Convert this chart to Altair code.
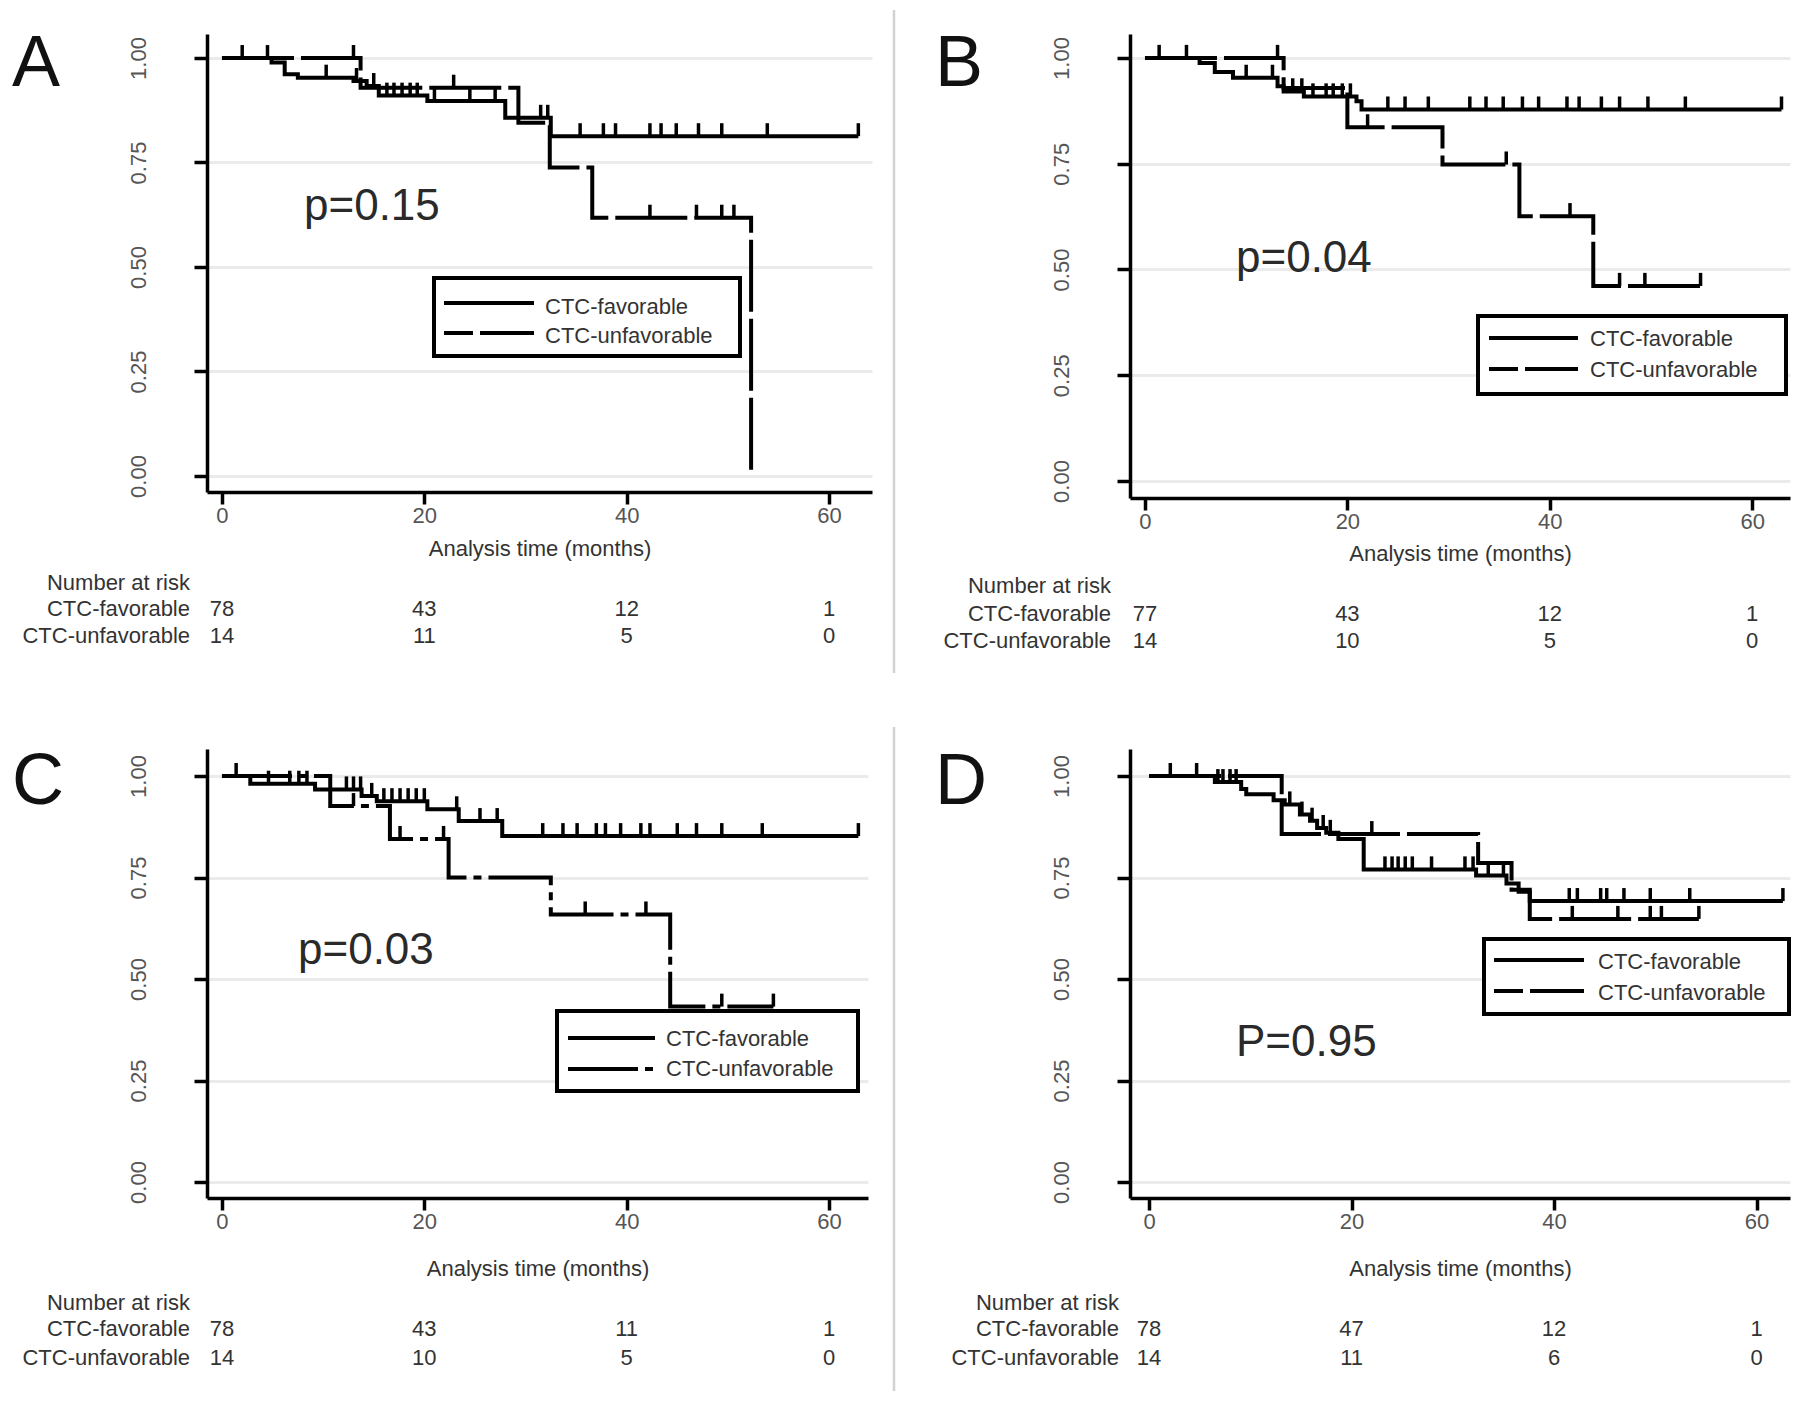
import altair as alt
import pandas as pd

FONT = "Liberation Sans"
GROUPS = ["CTC-favorable", "CTC-unfavorable"]
RISK_TIMES = [0, 20, 40, 60]

# ---------------- Panel A ----------------
A_fav_t = [0, 4.9, 6.2, 7.5, 13.0, 14.3, 15.5, 20.3, 28.0, 32.5, 62.9]
A_fav_s = [1.0, 0.989, 0.961, 0.953, 0.945, 0.933, 0.910, 0.897, 0.857, 0.813, 0.813]
A_fav_c = [2.0, 4.5, 10.3, 13.3, 15.0, 16.3, 17.0, 17.8, 18.6, 19.3, 21.0, 24.5, 27.0,
           31.5, 32.2, 35.4, 37.7, 38.9, 42.3, 43.4, 44.9, 47.1, 49.4, 53.9, 62.9]
A_unf_t = [0, 13.7, 29.3, 32.4, 36.6, 52.3]
A_unf_s = [1.0, 0.929, 0.845, 0.738, 0.618, 0.0]
A_unf_c = [13.0, 22.9, 42.3, 46.9, 49.4, 50.6]
A_risk_fav = [78, 43, 12, 1]
A_risk_unf = [14, 11, 5, 0]

# ---------------- Panel B ----------------
B_fav_t = [0, 5.4, 6.9, 8.7, 13.1, 13.7, 15.7, 20.9, 21.4, 62.9]
B_fav_s = [1.0, 0.988, 0.967, 0.953, 0.933, 0.921, 0.909, 0.898, 0.878, 0.878]
B_fav_c = [1.4, 4.1, 10.0, 12.6, 14.6, 15.5, 16.6, 17.9, 18.6, 19.5, 20.3, 24.0, 25.7,
           28.0, 32.1, 33.7, 35.4, 37.3, 38.9, 41.7, 42.9, 45.1, 46.9, 49.7, 53.4, 62.9]
B_unf_t = [0, 13.7, 20.0, 29.4, 37.0, 44.3, 54.9]
B_unf_s = [1.0, 0.929, 0.836, 0.748, 0.626, 0.461, 0.461]
B_unf_c = [13.1, 22.0, 35.7, 42.0, 46.9, 49.4, 54.9]
B_risk_fav = [77, 43, 12, 1]
B_risk_unf = [14, 10, 5, 0]

# ---------------- Panel C ----------------
C_fav_t = [0, 2.8, 9.2, 13.8, 15.3, 20.3, 23.4, 27.7, 62.9]
C_fav_s = [1.0, 0.981, 0.967, 0.951, 0.938, 0.918, 0.889, 0.852, 0.852]
C_fav_c = [1.4, 4.6, 6.7, 7.6, 8.4, 12.3, 13.0, 13.7, 14.8, 16.0, 16.8, 17.6, 18.4,
           19.2, 20.0, 23.2, 25.5, 27.2, 31.7, 33.7, 35.1, 37.0, 37.9, 39.4, 41.4,
           42.3, 45.0, 46.9, 49.4, 53.4, 62.9]
C_unf_t = [0, 10.7, 16.6, 22.4, 32.5, 44.3, 54.5]
C_unf_s = [1.0, 0.926, 0.845, 0.750, 0.659, 0.432, 0.432]
C_unf_c = [13.0, 17.6, 21.9, 35.9, 41.9, 49.4, 54.5]
C_risk_fav = [78, 43, 11, 1]
C_risk_unf = [14, 10, 5, 0]

# ---------------- Panel D ----------------
D_fav_t = [0, 6.5, 9.1, 9.6, 12.3, 13.4, 14.9, 15.9, 16.6, 17.5, 18.7, 21.2,
           32.3, 35.3, 36.5, 37.6, 62.6]
D_fav_s = [1.0, 0.985, 0.968, 0.955, 0.94, 0.93, 0.905, 0.89, 0.872, 0.86, 0.845,
           0.770, 0.755, 0.735, 0.715, 0.692, 0.692]
D_fav_c = [2.1, 4.7, 6.8, 7.3, 8.0, 8.6, 13.9, 15.1, 16.1, 17.2, 17.9, 23.3, 24.0,
           24.6, 25.3, 26.0, 27.9, 31.2, 32.0, 33.5, 35.0, 41.5, 42.3, 44.6, 45.2,
           46.9, 49.5, 53.4, 62.6]
D_unf_t = [0, 13.1, 32.5, 35.8, 37.6, 54.3]
D_unf_s = [1.0, 0.857, 0.786, 0.72, 0.648, 0.648]
D_unf_c = [22.0, 41.8, 46.3, 49.5, 50.6, 54.3]
D_risk_fav = [78, 47, 12, 1]
D_risk_unf = [14, 11, 6, 0]

P_VALUES = ["p=0.15", "p=0.04", "p=0.03", "P=0.95"]
LETTERS = ["A", "B", "C", "D"]


def s_at(ts, ss, x):
    val = ss[0]
    for t, s in zip(ts, ss):
        if t <= x + 1e-9:
            val = s
    return val


def one_row(v=""):
    return pd.DataFrame({"v": [v]})


def text_layer(label, x, y, size, align="left", baseline="middle", color="#333"):
    return alt.Chart(one_row(label)).mark_text(
        font=FONT, fontSize=size, align=align, baseline=baseline, color=color
    ).encode(x=alt.value(x), y=alt.value(y), text="v:N")


def make_panel(letter, pval, fav, unf, risk, L):
    fav_t, fav_s, fav_c = fav
    unf_t, unf_s, unf_c = unf
    W, H = L["w"], L["h"]

    fav_df = pd.DataFrame({"t": fav_t, "s": fav_s})
    unf_df = pd.DataFrame({"t": unf_t, "s": unf_s})
    cens_df = pd.DataFrame({
        "t": list(fav_c) + list(unf_c),
        "s": [s_at(fav_t, fav_s, c) for c in fav_c] + [s_at(unf_t, unf_s, c) for c in unf_c],
    })

    x_enc = alt.X("t:Q", scale=alt.Scale(domain=L["xdom"], nice=False, zero=False),
                  axis=alt.Axis(values=RISK_TIMES, title="Analysis time (months)", grid=False,
                                domainColor="black", domainWidth=3.5, tickColor="black",
                                tickWidth=3.5, tickSize=12, labelFont=FONT, labelFontSize=22,
                                labelColor="#555", labelPadding=1, labelFlush=False,
                                titleFont=FONT, titleFontSize=22, titleFontWeight="normal",
                                titleColor="#333", titlePadding=L["tpad"]))
    y_enc = alt.Y("s:Q", scale=alt.Scale(domain=L["ydom"], nice=False, zero=False),
                  axis=alt.Axis(values=[0, 0.25, 0.5, 0.75, 1.0], format=".2f", title=None,
                                labelAngle=270, labelAlign="center", labelBaseline="bottom",
                                labelPadding=44, tickSize=13, tickColor="black", tickWidth=3.5,
                                domainColor="black", domainWidth=3.5, grid=True,
                                gridColor="#ebebeb", gridWidth=3, labelFont=FONT,
                                labelFontSize=22, labelColor="#555", labelFlush=False,
                                labelOverlap=False))

    layers = []
    layers.append(alt.Chart(unf_df).mark_line(interpolate="step-after", strokeWidth=4,
                                              color="black", strokeDash=L["dash"])
                  .encode(x=x_enc, y=y_enc))
    layers.append(alt.Chart(fav_df).mark_line(interpolate="step-after", strokeWidth=4,
                                              color="black")
                  .encode(x=x_enc, y=y_enc))
    layers.append(alt.Chart(cens_df).transform_calculate(s2=f"datum.s + {L['tickh']}")
                  .mark_rule(strokeWidth=3.5, color="black")
                  .encode(x=x_enc, y=y_enc, y2="s2:Q"))

    # legend box
    bx0, bx1, by0, by1 = L["box"]
    layers.append(alt.Chart(one_row()).mark_rect(fill="white", stroke="black", strokeWidth=4)
                  .encode(x=alt.value(bx0), x2=alt.value(bx1), y=alt.value(by0), y2=alt.value(by1)))
    lx0, lx1 = L["lx"]
    ly0, ly1 = L["ly"]
    layers.append(alt.Chart(one_row()).mark_rule(strokeWidth=4, color="black")
                  .encode(x=alt.value(lx0), x2=alt.value(lx1), y=alt.value(ly0)))
    layers.append(alt.Chart(one_row()).mark_rule(strokeWidth=4, color="black",
                                                 strokeDash=L["dash"], strokeDashOffset=L["doff"])
                  .encode(x=alt.value(lx0), x2=alt.value(lx1), y=alt.value(ly1)))
    tx = L["tx"]
    ty0, ty1 = L["ty"]
    layers.append(text_layer(GROUPS[0], tx, ty0, 22))
    layers.append(text_layer(GROUPS[1], tx, ty1, 22))

    # letter and p value
    layers.append(text_layer(letter, L["letter"][0], L["letter"][1], 72,
                             baseline="alphabetic", color="#111"))
    layers.append(text_layer(pval, L["p"][0], L["p"][1], 44, baseline="alphabetic", color="#2a2a2a"))

    # number at risk table
    r0, r1, r2 = L["risk"]
    layers.append(text_layer("Number at risk", L["labx"], H + r0, 22, align="right"))
    layers.append(text_layer(GROUPS[0], L["labx"], H + r1, 22, align="right"))
    layers.append(text_layer(GROUPS[1], L["labx"], H + r2, 22, align="right"))
    for n_vals, off in ((risk[0], r1), (risk[1], r2)):
        ndf = pd.DataFrame({"t": RISK_TIMES, "n": n_vals})
        layers.append(alt.Chart(ndf).mark_text(font=FONT, fontSize=22, align="center",
                                               baseline="middle", color="#333")
                      .encode(x=x_enc, y=alt.value(H + off), text="n:Q"))

    if L.get("sep"):
        sx, sy0, sy1 = L["sep"]
        layers.append(alt.Chart(one_row()).mark_rule(color="#d2d2d2", strokeWidth=2.5)
                      .encode(x=alt.value(sx), y=alt.value(sy0), y2=alt.value(sy1)))

    return alt.layer(*layers).properties(width=W, height=H)


LAYOUT_A = dict(w=665, h=458, xdom=[-1.48, 64.25], ydom=[-0.0383, 1.0574], tickh=0.031,
                tpad=12, risk=(91, 117, 144), labx=-17, letter=(-195, 52), p=(97, 186),
                box=(227, 533, 244, 322), lx=(237, 327), ly=(269, 299), tx=338, ty=(273, 302),
                dash=[72, 7], doff=43, sep=(687, -24, 639))
LAYOUT_B = dict(w=660, h=464, xdom=[-1.48, 63.74], ydom=[-0.0402, 1.0567], tickh=0.031,
                tpad=11, risk=(88, 116, 143), labx=-19, letter=(-195, 52), p=(106, 238),
                box=(348, 656, 282, 360), lx=(359, 448), ly=(304, 335), tx=460, ty=(305, 336),
                dash=[72, 7], doff=43)
LAYOUT_C = dict(w=661, h=449, xdom=[-1.48, 63.85], ydom=[-0.0394, 1.0665], tickh=0.032,
                tpad=26, risk=(105, 131, 160), labx=-17, letter=(-195, 55), p=(91, 215),
                box=(350, 651, 262, 342), lx=(361, 448), ly=(289, 320), tx=459, ty=(290, 320),
                dash=[70, 7, 8, 7], doff=0, sep=(687, -22, 642))
LAYOUT_D = dict(w=660, h=449, xdom=[-1.88, 63.3], ydom=[-0.0394, 1.0665], tickh=0.032,
                tpad=26, risk=(105, 131, 160), labx=-11, letter=(-195, 55), p=(106, 307),
                box=(354, 659, 190, 265), lx=(364, 454), ly=(211, 242), tx=468, ty=(213, 244),
                dash=[72, 7], doff=43)

pA = make_panel(LETTERS[0], P_VALUES[0], (A_fav_t, A_fav_s, A_fav_c), (A_unf_t, A_unf_s, A_unf_c),
                (A_risk_fav, A_risk_unf), LAYOUT_A)
pB = make_panel(LETTERS[1], P_VALUES[1], (B_fav_t, B_fav_s, B_fav_c), (B_unf_t, B_unf_s, B_unf_c),
                (B_risk_fav, B_risk_unf), LAYOUT_B)
pC = make_panel(LETTERS[2], P_VALUES[2], (C_fav_t, C_fav_s, C_fav_c), (C_unf_t, C_unf_s, C_unf_c),
                (C_risk_fav, C_risk_unf), LAYOUT_C)
pD = make_panel(LETTERS[3], P_VALUES[3], (D_fav_t, D_fav_s, D_fav_c), (D_unf_t, D_unf_s, D_unf_c),
                (D_risk_fav, D_risk_unf), LAYOUT_D)

chart = alt.concat(pA, pB, pC, pD, columns=2, spacing={"row": 251, "column": 258},
                   bounds="flush").properties(
    padding={"left": 4, "top": 0, "right": 0, "bottom": 0},
    background="white",
).configure_view(strokeWidth=0, stroke="transparent")

chart.save("out.html", embed_options={"renderer": "svg", "actions": False})
